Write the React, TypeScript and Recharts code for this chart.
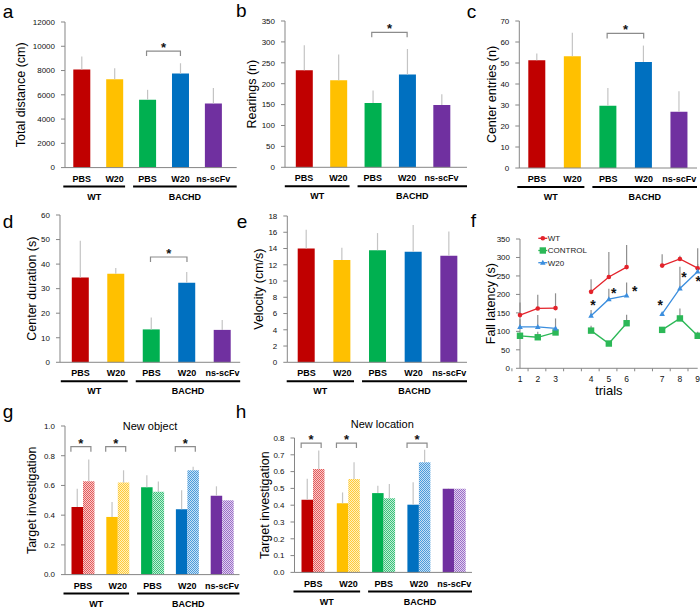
import {
  BarChart, Bar, Cell, XAxis, YAxis, ErrorBar, ReferenceLine, ReferenceDot,
  LineChart, Line,
} from 'recharts'

const FONT = '"Liberation Sans", Arial, Helvetica, sans-serif'
const AXIS = '#868686'
const WHISKER = '#c4c4c4'

// groups shared by all bar panels
const treatments = ['PBS', 'W20', 'PBS', 'W20', 'ns-scFv']
const strains = ['WT', 'WT', 'BACHD', 'BACHD', 'BACHD']
const categories = treatments.map((t, i) => `${strains[i]}|${t}`)
const barColors = ['#c00000', '#ffc000', '#00b050', '#0070c0', '#7030a0']
const hatchDots = ['#e45a5a', '#ffcb3a', '#38c27a', '#4b9bdb', '#9a6cc8']
const hatchBase = ['#f8cccc', '#fff0bf', '#c3eed6', '#c8e1f5', '#e1d3ef']

// a: total distance (cm)
const distance = [8080, 7290, 5590, 7750, 5290]
const distanceSd = [1070, 900, 820, 850, 1260]
const distanceTicks = [0, 2000, 4000, 6000, 8000, 10000, 12000]

// b: rearings (n)
const rearings = [232, 208, 154, 222, 149]
const rearingsSd = [60, 62, 30, 61, 26]
const rearingsTicks = [0, 50, 100, 150, 200, 250, 300, 350]

// c: center entries (n)
const entries = [51.3, 53.2, 29.7, 50.5, 26.8]
const entriesSd = [3.2, 11.2, 8.4, 7.8, 9.8]
const entriesTicks = [0, 10, 20, 30, 40, 50, 60, 70]

// d: center duration (s)
const duration = [34.5, 36.1, 13.4, 32.4, 13.2]
const durationSd = [15.0, 2.3, 4.8, 4.4, 4.0]
const durationTicks = [0, 10, 20, 30, 40, 50, 60]

// e: velocity (cm/s)
const velocity = [14.0, 12.6, 13.8, 13.6, 13.1]
const velocitySd = [2.3, 1.5, 2.1, 3.3, 3.0]
const velocityTicks = [0, 2, 4, 6, 8, 10, 12, 14, 16, 18]

// f: rotarod fall latency, three blocks of trials
const trialKeys = ['1', '2', '3', 'gap1', '4', '5', '6', 'gap2', '7', '8', '9']
const trialLabels = ['1', '2', '3', '', '4', '5', '6', '', '7', '8', '9']
const wtLatency = [144, 162, 163, null, 207, 247, 274, null, 278, 296, 271]
const wtLatencySd = [34, 37, 40, 0, 34, 68, 60, 0, 31, 9, 54]
const controlLatency = [88, 84, 97, null, 102, 67, 122, null, 104, 135, 88]
const controlLatencySd = [7, 15, 5, 0, 13, 0, 23, 0, 4, 27, 11]
const w20Latency = [112, 112, 108, null, 142, 187, 197, null, 147, 216, 262]
const w20LatencySd = [21, 32, 27, 0, 16, 28, 35, 0, 0, 59, 20]
const latencyTicks = [0, 50, 100, 150, 200, 250, 300, 350]
const latencyStars = [
  { trial: '4', y: 178, dx: 2 },
  { trial: '5', y: 212, dx: 5 },
  { trial: '6', y: 218, dx: 8 },
  { trial: '7', y: 178, dx: -2 },
  { trial: '8', y: 255, dx: 4 },
  { trial: '9', y: 244, dx: 0.5 },
]

// g: new object recognition
const objectOld = [0.455, 0.388, 0.587, 0.439, 0.531]
const objectOldSd = [0.123, 0.101, 0.081, 0.128, 0.063]
const objectNew = [0.628, 0.619, 0.558, 0.702, 0.5]
const objectNewSd = [0.146, 0.083, 0.068, 0.024, 0]
const objectTicks = [0, 0.2, 0.4, 0.6, 0.8, 1.0]

// h: new location recognition
const locationOld = [0.433, 0.411, 0.472, 0.403, 0.498]
const locationOldSd = [0.125, 0.065, 0.044, 0.133, 0.004]
const locationNew = [0.615, 0.556, 0.442, 0.655, 0.498]
const locationNewSd = [0.111, 0.099, 0.084, 0.075, 0]
const locationTicks = [0, 0.1, 0.2, 0.3, 0.4, 0.5, 0.6, 0.7, 0.8]

const pairStars = [0, 1, 3]

type Geo = {
  left: number; axisX: number; plotRight: number; plotTop: number; plotBottom: number
  padL: number; padR: number; labelX: number
}

const XH = 34

function frame(g: Geo, xh = XH, below = 2) {
  const top = g.plotTop - 14
  return {
    top,
    width: g.plotRight + 4 - g.left,
    height: g.plotBottom - top + xh + below,
    margin: { top: 14, right: 4, bottom: below, left: 0 },
    yWidth: g.axisX - g.left,
  }
}

function groupTick(g: Geo) {
  const n = categories.length
  const band = (g.plotRight - g.axisX - g.padL - g.padR) / n
  return (p: any) => {
    const i = categories.indexOf(p.payload.value)
    const { x, y } = p
    let group = null
    if (i === 0 || strains[i] !== strains[i - 1]) {
      let count = 1
      while (i + count < n && strains[i + count] === strains[i]) count++
      const x1 = x - band / 2 + (i === 0 ? -2 : 2)
      const x2 = i + count === n ? g.plotRight - g.left : x - band / 2 + band * count - 6
      group = (
        <g>
          <line x1={x1} x2={x2} y1={y + 19} y2={y + 19} stroke="#000" strokeWidth={2} />
          <text x={(x1 + x2) / 2} y={y + 29} dy="0.35em" textAnchor="middle" fontSize={9} fontWeight="bold" fill="#000">
            {strains[i]}
          </text>
        </g>
      )
    }
    return (
      <g>
        <text x={x} y={y + 11} dy="0.35em" textAnchor="middle" fontSize={9} fontWeight="bold" fill="#000">
          {treatments[i]}
        </text>
        {group}
      </g>
    )
  }
}

const bracket = (dl: number, dr: number) => (p: any) => {
  const x1 = p.x1 + dl
  const x2 = p.x2 + dr
  return (
    <g>
      <path d={`M${x1},${p.y1 + 5}V${p.y1}H${x2}V${p.y1 + 5}`} fill="none" stroke="#8c8c8c" strokeWidth={1.2} />
      <text x={(x1 + x2) / 2} y={p.y1 + 1} textAnchor="middle" fontSize={13} fontWeight="bold" fill="#111">*</text>
    </g>
  )
}

function yAxisFor(f: ReturnType<typeof frame>, g: Geo, ticks: number[], label: string, fmt?: (v: number) => string) {
  return (
    <YAxis
      width={f.yWidth}
      domain={[0, ticks[ticks.length - 1]]}
      ticks={ticks}
      interval={0}
      tickFormatter={fmt}
      tick={{ fontSize: 8, fill: '#111' }}
      tickSize={4}
      tickMargin={6}
      tickLine={{ stroke: AXIS }}
      axisLine={{ stroke: AXIS }}
      label={{
        value: label, angle: -90, position: 'insideLeft', offset: g.labelX - g.left,
        fontSize: 12.5, fill: '#000', style: { textAnchor: 'middle' },
      }}
    />
  )
}

function BarPanel({ geo, values, sds, ticks, yLabel, bracketY }: {
  geo: Geo; values: number[]; sds: number[]; ticks: number[]; yLabel: string; bracketY?: number
}) {
  const f = frame(geo)
  const rows = categories.map((c, i) => ({ cat: c, value: values[i], sd: [0, sds[i]] }))
  return (
    <div style={{ position: 'absolute', left: geo.left, top: f.top }}>
      <BarChart width={f.width} height={f.height} data={rows} margin={f.margin}>
        <XAxis
          dataKey="cat" height={XH} interval={0} tick={groupTick(geo)} tickLine={false}
          tickSize={0} tickMargin={0} axisLine={{ stroke: AXIS }}
          padding={{ left: geo.padL, right: geo.padR }}
        />
        {yAxisFor(f, geo, ticks, yLabel)}
        <Bar dataKey="value" barSize={17} isAnimationActive={false}>
          {rows.map((r, i) => <Cell key={r.cat} fill={barColors[i]} />)}
          <ErrorBar dataKey="sd" width={0} stroke={WHISKER} strokeWidth={1.2} />
        </Bar>
        {bracketY != null && (
          <ReferenceLine
            segment={[{ x: categories[2], y: bracketY }, { x: categories[3], y: bracketY }]}
            shape={bracket(-1, 0)} ifOverflow="visible"
          />
        )}
      </BarChart>
    </div>
  )
}

function PairPanel({ id, geo, oldVals, oldSd, newVals, newSd, ticks, bracketY }: {
  id: string; geo: Geo; oldVals: number[]; oldSd: number[]; newVals: number[]; newSd: number[]
  ticks: number[]; bracketY: number
}) {
  const f = frame(geo)
  const rows = categories.map((c, i) => ({
    cat: c, old: oldVals[i], oldSd: [0, oldSd[i]], fresh: newVals[i], freshSd: [0, newSd[i]],
  }))
  return (
    <div style={{ position: 'absolute', left: geo.left, top: f.top }}>
      <BarChart width={f.width} height={f.height} data={rows} margin={f.margin} barGap={0}>
        <defs>
          {barColors.map((c, i) => (
            <pattern key={c} id={`${id}-hatch-${i}`} width={2} height={2} patternUnits="userSpaceOnUse">
              <rect width={2} height={2} fill={hatchBase[i]} />
              <rect width={1} height={1} fill={hatchDots[i]} />
              <rect x={1} y={1} width={1} height={1} fill={hatchDots[i]} />
            </pattern>
          ))}
        </defs>
        <XAxis
          dataKey="cat" height={XH} interval={0} tick={groupTick(geo)} tickLine={false}
          tickSize={0} tickMargin={0} axisLine={{ stroke: AXIS }}
          padding={{ left: geo.padL, right: geo.padR }}
        />
        {yAxisFor(f, geo, ticks, 'Target investigation', (v) => v.toFixed(1))}
        <Bar dataKey="old" barSize={11.5} isAnimationActive={false}>
          {rows.map((r, i) => <Cell key={r.cat} fill={barColors[i]} />)}
          <ErrorBar dataKey="oldSd" width={0} stroke={WHISKER} strokeWidth={1.2} />
        </Bar>
        <Bar dataKey="fresh" barSize={11.5} isAnimationActive={false}>
          {rows.map((r, i) => <Cell key={r.cat} fill={`url(#${id}-hatch-${i})`} />)}
          <ErrorBar dataKey="freshSd" width={0} stroke={WHISKER} strokeWidth={1.2} />
        </Bar>
        {pairStars.map((i) => (
          <ReferenceLine
            key={i}
            segment={[{ x: categories[i], y: bracketY }, { x: categories[i], y: bracketY }]}
            shape={bracket(-12, 8)} ifOverflow="visible"
          />
        ))}
      </BarChart>
    </div>
  )
}

const fallSeries = [
  { key: 'wt', name: 'WT', color: '#e3232b', marker: 'circle' },
  { key: 'control', name: 'CONTROL', color: '#2cb857', marker: 'square' },
  { key: 'w20', name: 'W20', color: '#3b8ede', marker: 'triangle' },
]

function marker(kind: string, cx: number, cy: number, color: string) {
  if (kind === 'square') return <rect x={cx - 3.2} y={cy - 3.2} width={6.4} height={6.4} fill={color} />
  if (kind === 'triangle') return <path d={`M${cx},${cy - 3}L${cx + 2.8},${cy + 2}L${cx - 2.8},${cy + 2}Z`} fill={color} />
  return <circle cx={cx} cy={cy} r={2.3} fill={color} />
}

const dotFor = (kind: string, color: string) => (p: any) => {
  if (p.value == null || p.cy == null) return <g key={p.index} />
  return <g key={p.index}>{marker(kind, p.cx, p.cy, color)}</g>
}

const fallGeo: Geo = {
  left: 460, axisX: 520, plotRight: 697.7, plotTop: 239, plotBottom: 368.3, padL: 0, padR: 0, labelX: 490.7,
}

function FallPanel() {
  const geo = fallGeo
  const f = frame(geo, 27, 8)
  const band = (geo.plotRight - geo.axisX) / trialKeys.length
  const rows = trialKeys.map((k, i) => ({
    trial: k,
    wt: wtLatency[i], wtSd: [0, wtLatencySd[i]],
    control: controlLatency[i], controlSd: [0, controlLatencySd[i]],
    w20: w20Latency[i], w20Sd: [0, w20LatencySd[i]],
  }))
  const trialTick = (p: any) => {
    const i = trialKeys.indexOf(p.payload.value)
    const { x, y } = p
    return (
      <g>
        {i === 0 && <line x1={x - band / 2} x2={x - band / 2} y1={y} y2={y + 3} stroke={AXIS} />}
        <line x1={x + band / 2} x2={x + band / 2} y1={y} y2={y + 3} stroke={AXIS} />
        <text x={x} y={y + 11} dy="0.35em" textAnchor="middle" fontSize={8.5} fill="#111">{trialLabels[i]}</text>
      </g>
    )
  }
  return (
    <div style={{ position: 'absolute', left: geo.left, top: f.top }}>
      <LineChart width={f.width} height={f.height} data={rows} margin={f.margin}>
        <XAxis
          dataKey="trial" height={27} interval={0} tick={trialTick} tickLine={false}
          tickSize={0} tickMargin={0} axisLine={{ stroke: AXIS }}
          label={{ value: 'trials', position: 'insideBottom', offset: 0, fontSize: 13, fill: '#000' }}
        />
        {yAxisFor(f, geo, latencyTicks, 'Fall latency (s)')}
        {fallSeries.map((s) => (
          <Line
            key={s.key} dataKey={s.key} stroke={s.color} strokeWidth={1.3}
            dot={dotFor(s.marker, s.color)} activeDot={false} isAnimationActive={false}
          >
            <ErrorBar dataKey={`${s.key}Sd`} width={0} stroke="#8f8f8f" strokeWidth={1.2} />
          </Line>
        ))}
        {latencyStars.map((s) => (
          <ReferenceDot
            key={s.trial} x={s.trial} y={s.y} ifOverflow="visible"
            shape={(p: any) => (
              <text x={p.cx + s.dx} y={p.cy + 7.8} textAnchor="middle" fontSize={14} fontWeight="bold" fill="#111">*</text>
            )}
          />
        ))}
      </LineChart>
    </div>
  )
}

const panelLetters = [
  { t: 'a', x: 2.7, y: 17.5 }, { t: 'b', x: 236, y: 17.3 }, { t: 'c', x: 466.7, y: 18.3 },
  { t: 'd', x: 2.7, y: 228.3 }, { t: 'e', x: 236.7, y: 228.3 }, { t: 'f', x: 470.7, y: 226.7 },
  { t: 'g', x: 2.7, y: 418.3 }, { t: 'h', x: 235.7, y: 418.3 },
]

export default function App() {
  return (
    <div style={{ position: 'absolute', left: 0, top: 0, width: 700, height: 609, background: '#fff', fontFamily: FONT }}>
      <BarPanel
        geo={{ left: 0, axisX: 65, plotRight: 236.7, plotTop: 21.7, plotBottom: 167.3, padL: 0.3, padR: 6.9, labelX: 21 }}
        values={distance} sds={distanceSd} ticks={distanceTicks} yLabel="Total distance (cm)" bracketY={9600}
      />
      <BarPanel
        geo={{ left: 230, axisX: 285, plotRight: 467, plotTop: 20.7, plotBottom: 167, padL: 1.8, padR: 8.3, labelX: 251.7 }}
        values={rearings} sds={rearingsSd} ticks={rearingsTicks} yLabel="Rearings (n)" bracketY={323}
      />
      <BarPanel
        geo={{ left: 460, axisX: 519.3, plotRight: 697, plotTop: 20.7, plotBottom: 167.7, padL: 0, padR: 0, labelX: 491.7 }}
        values={entries} sds={entriesSd} ticks={entriesTicks} yLabel="Center entries (n)" bracketY={64.1}
      />
      <BarPanel
        geo={{ left: 0, axisX: 60, plotRight: 240.2, plotTop: 215, plotBottom: 362.3, padL: 2.8, padR: 0, labelX: 32 }}
        values={duration} sds={durationSd} ticks={durationTicks} yLabel="Center duration (s)" bracketY={42.9}
      />
      <BarPanel
        geo={{ left: 230, axisX: 287.3, plotRight: 467, plotTop: 216, plotBottom: 362.3, padL: 1.4, padR: 0, labelX: 259 }}
        values={velocity} sds={velocitySd} ticks={velocityTicks} yLabel="Velocity (cm/s)"
      />
      <FallPanel />
      <PairPanel
        id="obj"
        geo={{ left: 0, axisX: 65, plotRight: 239.5, plotTop: 425.7, plotBottom: 574.3, padL: 0.5, padR: 0, labelX: 32 }}
        oldVals={objectOld} oldSd={objectOldSd} newVals={objectNew} newSd={objectNewSd}
        ticks={objectTicks} bracketY={0.861}
      />
      <PairPanel
        id="loc"
        geo={{ left: 230, axisX: 294.5, plotRight: 472, plotTop: 438.3, plotBottom: 572.7, padL: 1, padR: 0, labelX: 265 }}
        oldVals={locationOld} oldSd={locationOldSd} newVals={locationNew} newSd={locationNewSd}
        ticks={locationTicks} bracketY={0.77}
      />
      <svg width={700} height={609} style={{ position: 'absolute', left: 0, top: 0, pointerEvents: 'none' }}>
        {panelLetters.map((l) => (
          <text key={l.t} x={l.x} y={l.y} fontSize={19} fill="#000">{l.t}</text>
        ))}
        <text x={150} y={430} textAnchor="middle" fontSize={11} fill="#000">New object</text>
        <text x={382.3} y={428.3} textAnchor="middle" fontSize={11} fill="#000">New location</text>
        {fallSeries.map((s, i) => (
          <g key={s.key} transform={`translate(538.3, ${238.3 + i * 12.2})`}>
            <line x1={0} x2={9} y1={0} y2={0} stroke={s.color} strokeWidth={1.3} />
            {marker(s.marker, 4.5, 0, s.color)}
            <text x={9.5} y={0} dy="0.35em" fontSize={8} fill="#222">{s.name}</text>
          </g>
        ))}
      </svg>
    </div>
  )
}
